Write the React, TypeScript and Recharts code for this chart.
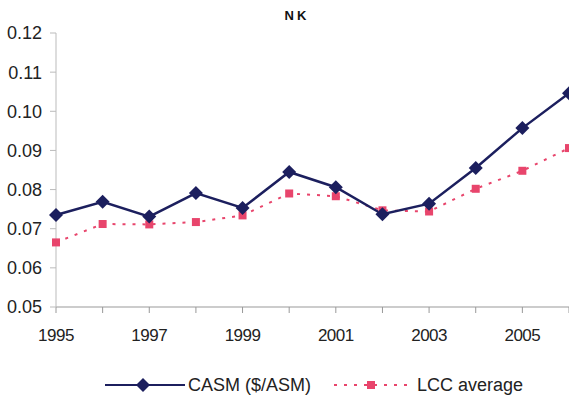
import React from 'react';
import { LineChart, Line, XAxis, YAxis } from 'recharts';

const years = [1995, 1996, 1997, 1998, 1999, 2000, 2001, 2002, 2003, 2004, 2005, 2006];
const casm = [0.0735, 0.0769, 0.0731, 0.0791, 0.0753, 0.0845, 0.0806, 0.0737, 0.0764, 0.0855, 0.0957, 0.1046];
const lccAverage = [0.0665, 0.0712, 0.0711, 0.0717, 0.0734, 0.079, 0.0783, 0.0747, 0.0744, 0.0802, 0.0848, 0.0906];
const yTicks = [0.05, 0.06, 0.07, 0.08, 0.09, 0.1, 0.11, 0.12];
const yTickLabels = ['0.05', '0.06', '0.07', '0.08', '0.09', '0.10', '0.11', '0.12'];

const data = years.map((year, i) => ({ year, casm: casm[i], lcc: lccAverage[i] }));

const NAVY = '#1c1f5e';
const PINK = '#e8456c';
const FONT = '"Liberation Sans", Arial, sans-serif';

const Diamond = (props: any) => {
    const { cx, cy } = props;
    if (cx == null || cy == null) return null;
    const r = 7;
    return <polygon points={`${cx},${cy - r} ${cx + r},${cy} ${cx},${cy + r} ${cx - r},${cy}`} fill={NAVY} />;
};

const Square = (props: any) => {
    const { cx, cy } = props;
    if (cx == null || cy == null) return null;
    return <rect x={cx - 4} y={cy - 4} width={8} height={8} fill={PINK} />;
};

const App: React.FC = () => {
    return (
        <div style={{ position: 'absolute', left: 0, top: 0, width: 569, height: 408, background: '#fff', fontFamily: FONT }}>
            <div style={{ position: 'absolute', left: 0, width: 594, top: 8, textAlign: 'center', fontSize: 13, fontWeight: 'bold', letterSpacing: 3, color: '#111' }}>
                NK
            </div>
            <LineChart width={569} height={360} data={data} margin={{ top: 33, right: 0, left: 0, bottom: 0 }}>
                <XAxis
                    dataKey="year"
                    type="number"
                    domain={[1995, 2006]}
                    ticks={years}
                    interval={0}
                    tickFormatter={(v: number) => (v % 2 === 1 ? String(v) : '')}
                    stroke="#999"
                    tickSize={6}
                    tickMargin={16}
                    height={53}
                    tick={{ fill: '#222', fontSize: 17, fontFamily: FONT, letterSpacing: -0.5 }}
                />
                <YAxis
                    type="number"
                    domain={[0.05, 0.12]}
                    ticks={yTicks}
                    tickFormatter={(v: number) => yTickLabels[yTicks.indexOf(v)] ?? ''}
                    width={56}
                    stroke="#bbb"
                    tickSize={6}
                    tickMargin={8}
                    tick={{ fill: '#222', fontSize: 18, fontFamily: FONT }}
                />
                <Line
                    dataKey="lcc"
                    stroke={PINK}
                    strokeWidth={2}
                    strokeDasharray="3 7"
                    dot={<Square />}
                    isAnimationActive={false}
                />
                <Line
                    dataKey="casm"
                    stroke={NAVY}
                    strokeWidth={2.5}
                    dot={<Diamond />}
                    isAnimationActive={false}
                />
            </LineChart>
            <svg width={569} height={40} style={{ position: 'absolute', left: 0, top: 366 }}>
                <line x1={105} x2={185} y1={19} y2={19} stroke={NAVY} strokeWidth={2} />
                <polygon points="143,12 150,19 143,26 136,19" fill={NAVY} />
                <text x={188} y={25} fontSize={18} fill="#222" fontFamily={FONT}>CASM ($/ASM)</text>
                <line x1={334} x2={410} y1={19} y2={19} stroke={PINK} strokeWidth={2} strokeDasharray="3 7" />
                <rect x={367} y={15} width={8} height={8} fill={PINK} />
                <text x={417} y={25} fontSize={18} fill="#222" fontFamily={FONT}>LCC average</text>
            </svg>
        </div>
    );
};

export default App;
